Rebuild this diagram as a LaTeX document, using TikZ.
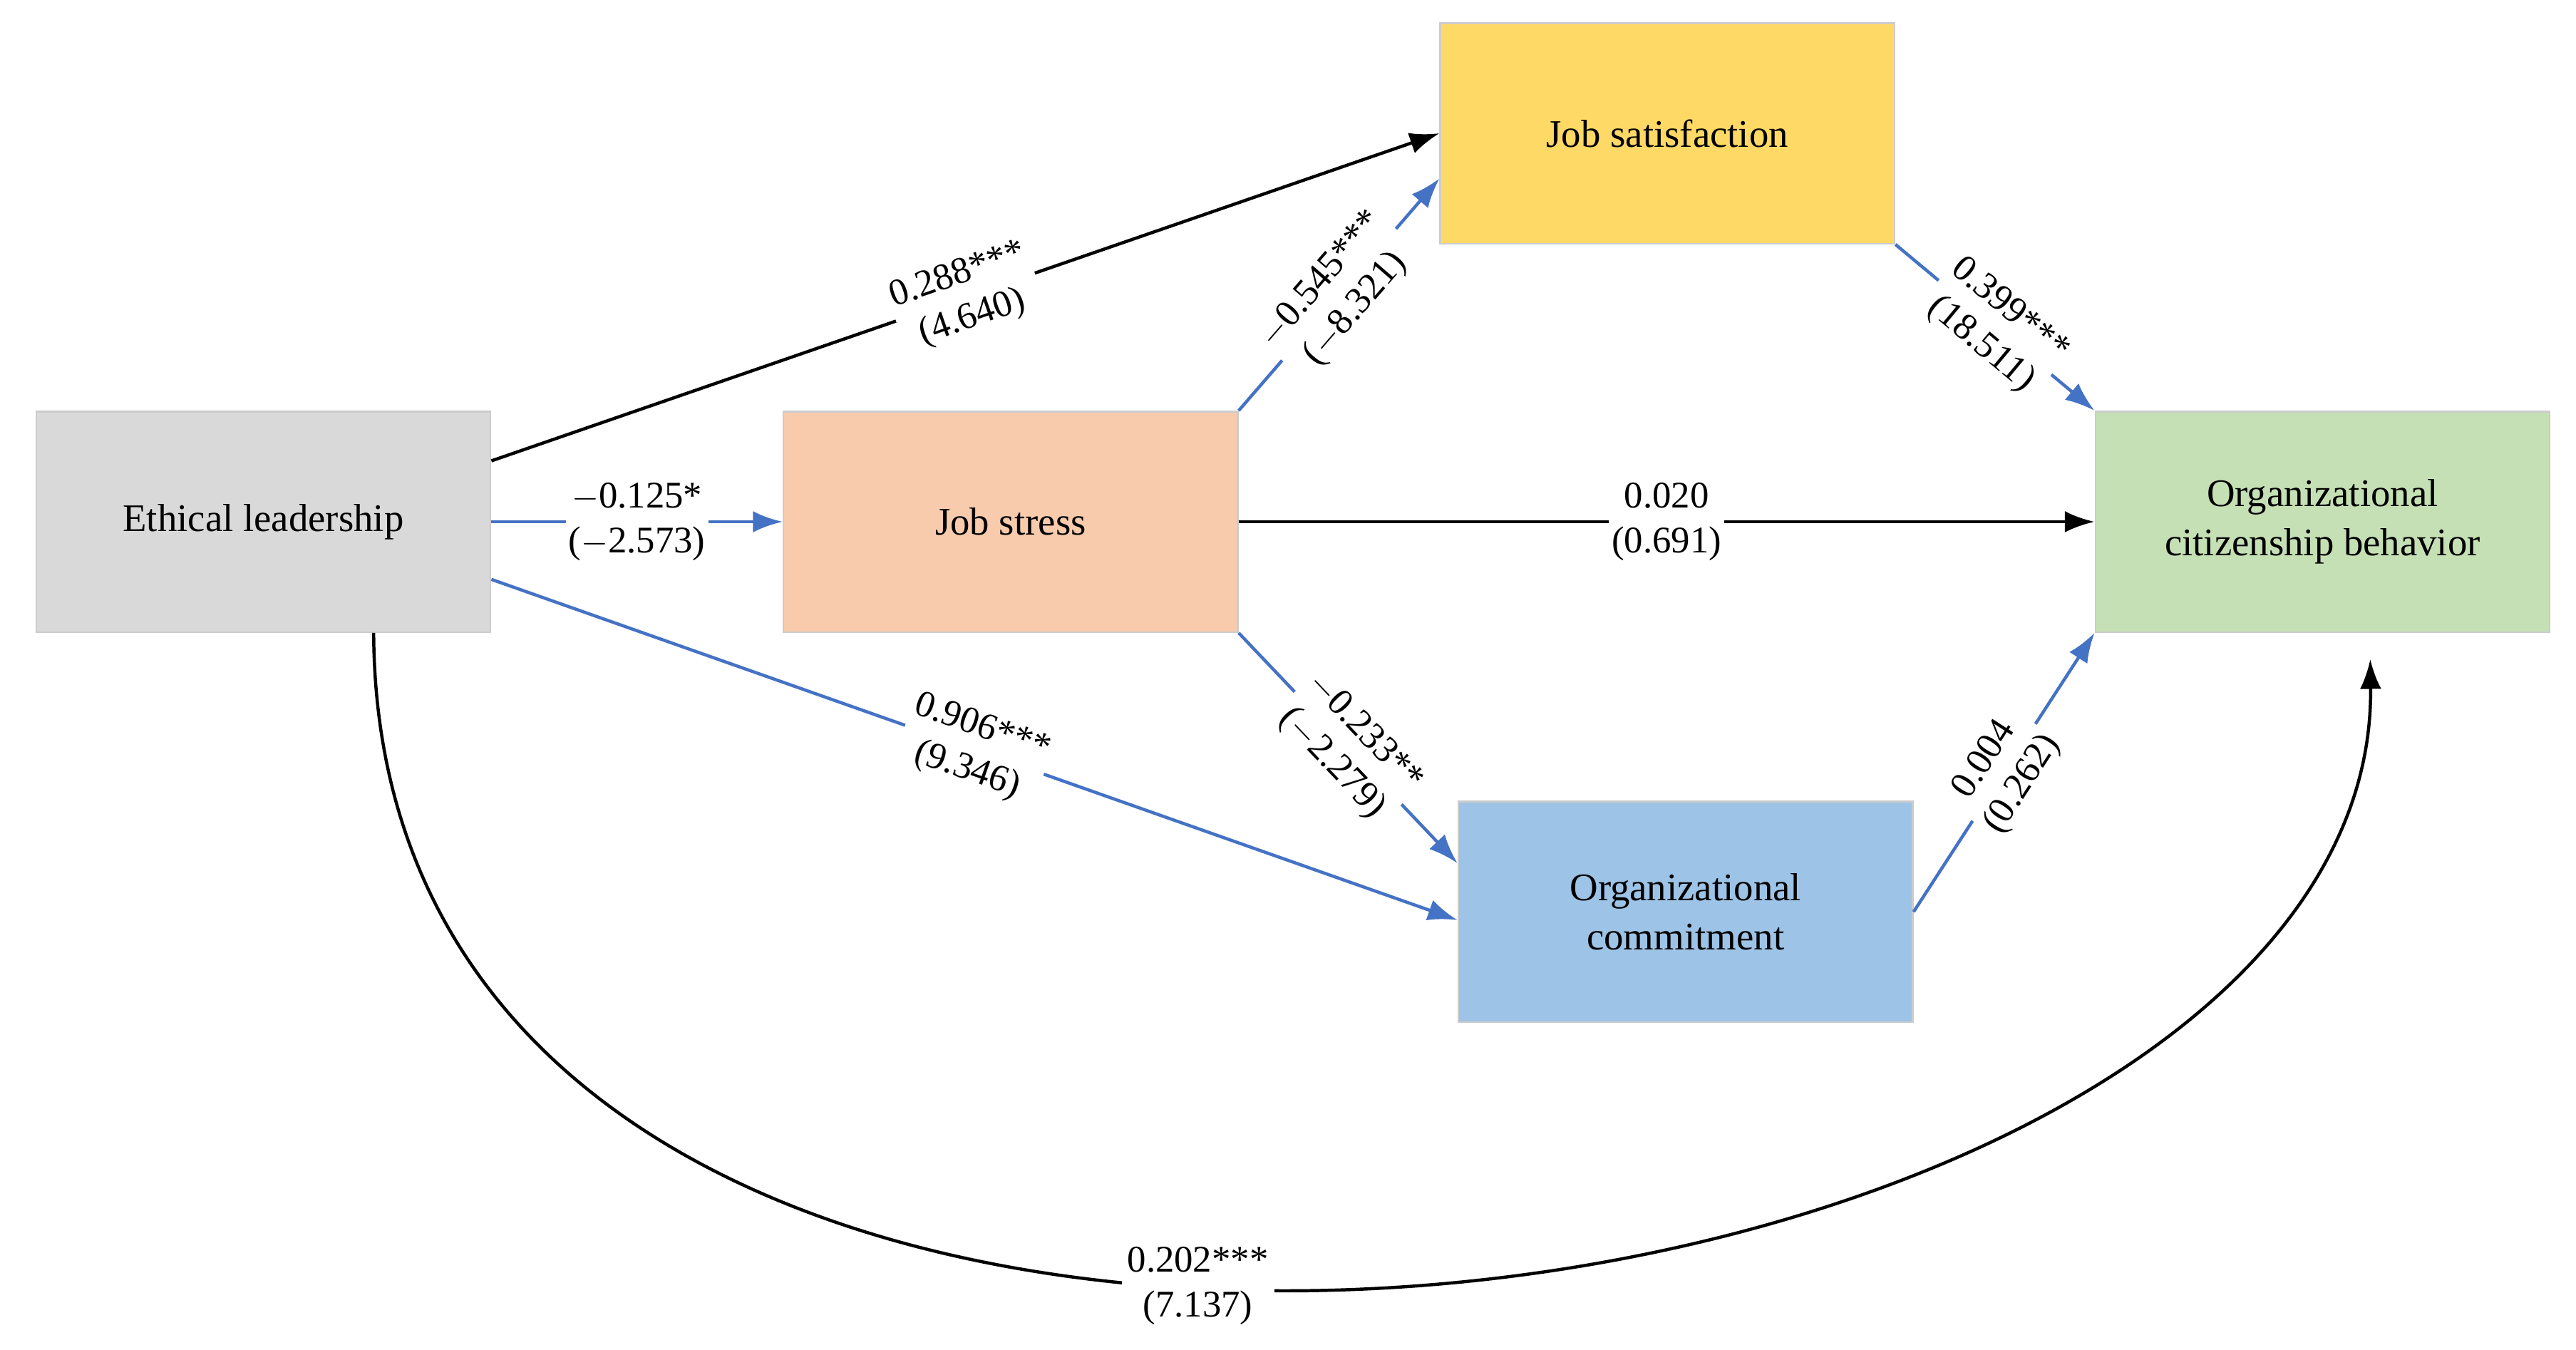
\documentclass[tikz,border=0pt]{standalone}
\usepackage{fontspec}
\setmainfont{Liberation Serif}
\usepackage{tikz}
\usetikzlibrary{positioning,arrows.meta}
\definecolor{elgray}{HTML}{D9D9D9}
\definecolor{stpeach}{HTML}{F8CBAD}
\definecolor{satyellow}{HTML}{FFD966}
\definecolor{comblue}{HTML}{9DC3E6}
\definecolor{ocbgreen}{HTML}{C5E0B4}
\definecolor{pathblue}{HTML}{4472C4}
\begin{document}
\begin{tikzpicture}[-{Latex[length=3.6mm,width=2.6mm]}, node distance = 1cm and 1cm, on grid, line width=1.1pt,
box/.style ={rectangle, draw=black!20, line width=0.6pt, text = black, minimum width=5.52cm, minimum height=2.68cm, align=center, font=\fontsize{13.5}{17}\selectfont},
lab/.style ={midway, sloped, fill=white, inner sep=1pt, align=center, font=\fontsize{13}{15.5}\selectfont},
blue path/.style ={draw=pathblue}]
\useasboundingbox (0,0) rectangle (31.3,16.4);
\node[box, fill=elgray] (EL) at (3.2,10.06) {Ethical leadership};
\node[box, fill=stpeach] (JS) [right = 9.08cm of EL] {Job stress};
\node[box, fill=ocbgreen] (OCB) [right = 15.94cm of JS] {Organizational\\citizenship behavior};
\node[box, fill=satyellow] (SAT) [above right = 4.72cm and 7.98cm of JS] {Job satisfaction};
\node[box, fill=comblue] (COM) [below right = 4.74cm and 8.2cm of JS] {Organizational\\commitment};

\draw ([yshift=0.74cm]EL.east) -- (SAT.west) node[lab] {0.288***\\(4.640)};
\draw[blue path] (EL.east) -- (JS.west) node[lab] {$-$0.125*\\($-$2.573)};
\draw[blue path] ([yshift=-0.7cm]EL.east) -- ([yshift=-0.1cm]COM.west) node[lab] {0.906***\\(9.346)};
\draw[blue path] (JS.north east) -- ([yshift=0.8cm]SAT.south west) node[lab] {$-$0.545***\\($-$8.321)};
\draw (JS.east) -- (OCB.west) node[lab] {0.020\\(0.691)};
\draw[blue path] (JS.south east) -- ([yshift=-0.76cm]COM.north west) node[lab] {$-$0.233**\\($-$2.279)};
\draw[blue path] (SAT.south east) -- (OCB.north west) node[lab] {0.399***\\(18.511)};
\draw[blue path] (COM.east) -- (OCB.south west) node[lab] {0.004\\(0.262)};
\draw ([xshift=1.34cm]EL.south) .. controls (4.6,-3.4) and (28.9,-0.2) .. ([xshift=0.58cm,yshift=-0.32cm]OCB.south)
  node[pos=0.44, fill=white, inner sep=2pt, align=center, font=\fontsize{13}{15.5}\selectfont] {0.202***\\(7.137)};
\end{tikzpicture}
\end{document}
